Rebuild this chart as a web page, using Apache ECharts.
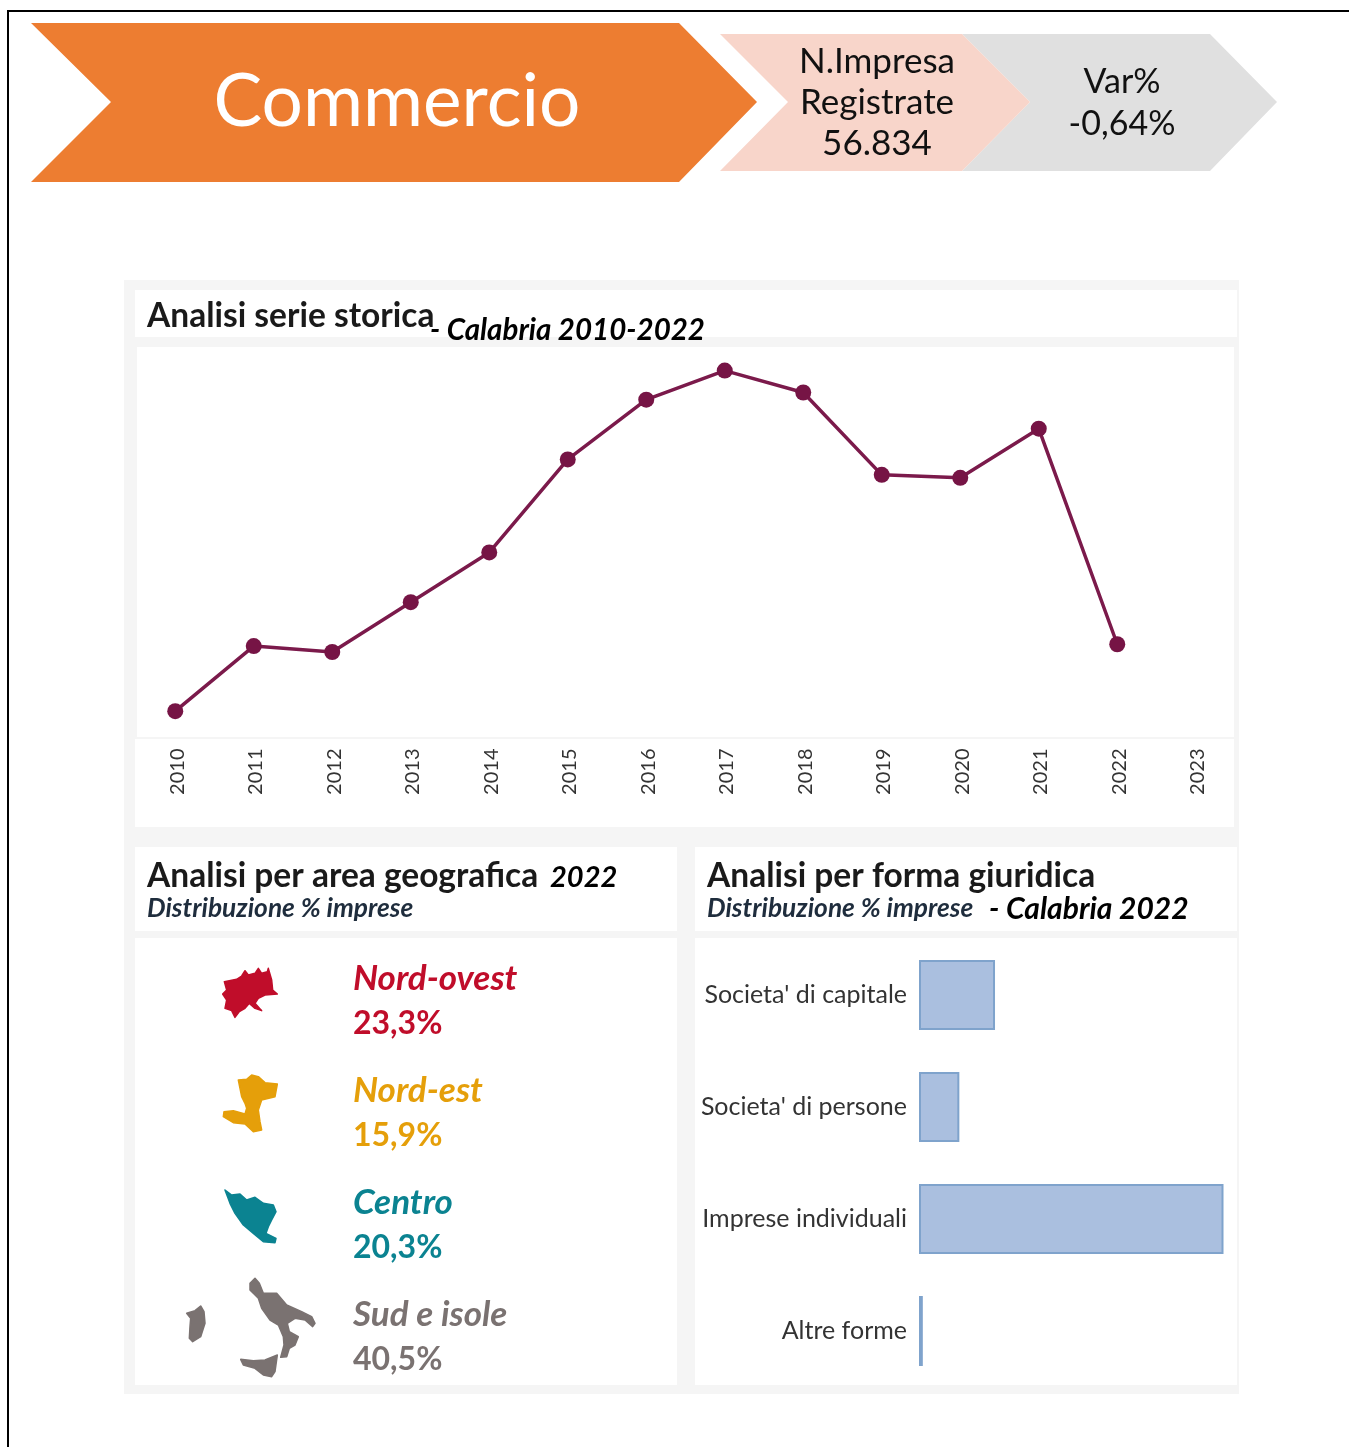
<!DOCTYPE html>
<html>
<head>
<meta charset="utf-8">
<title>Commercio</title>
<script src="https://cdn.jsdelivr.net/npm/echarts@6/dist/echarts.min.js"></script>
<style>
  html, body { margin: 0; padding: 0; background: #fff; }
  #chart { width: 1349px; height: 1447px; }
</style>
</head>
<body>
<div id="chart"></div>
<script>
// serie storica (imprese registrate, scala)
const years = ['2010','2011','2012','2013','2014','2015','2016','2017','2018','2019','2020','2021','2022','2023'];
const registered = [56721,56831,56821,56905,56989,57146,57247,57296,57259,57120,57115,57198,56834,null];

// forma giuridica, % imprese
const legalForms = ["Societa' di capitale","Societa' di persone",'Imprese individuali','Altre forme'];
const legalShares = [17.9,9.5,71.7,0.9];

// area geografica, % imprese
const areas = ['Nord-ovest','Nord-est','Centro','Sud e isole'];
const areaShares = ['23,3%','15,9%','20,3%','40,5%'];
const areaColors = ['#c00d2a','#e59f0a','#0b8391','#7a7271'];

const FONT = 'Lato, "Open Sans", sans-serif';

// sagome delle aree, coordinate sul ritaglio 3x (vedi toIcon)
const iconNordOvest = [[283,125],[320,118],[335,108],[345,92],[355,105],[375,100],[385,85],[395,100],[412,95],[415,85],[425,120],[428,150],[442,162],[405,165],[385,175],[375,190],[395,212],[375,205],[358,190],[345,205],[328,215],[315,232],[305,212],[285,205],[290,180],[278,162],[290,150]];
const iconNordEst = [[325,420],[350,418],[365,405],[385,410],[405,428],[442,432],[435,470],[395,480],[385,510],[390,545],[395,570],[370,575],[345,552],[310,548],[280,530],[282,515],[310,512],[345,522],[350,505],[345,490],[335,470],[330,445]];
const iconCentro = [[285,750],[305,765],[330,762],[350,780],[375,772],[400,790],[430,795],[438,815],[425,840],[415,860],[408,880],[438,895],[435,908],[400,905],[370,880],[340,855],[315,820],[300,790]];
const iconSud = [[360,1030],[375,1015],[388,1030],[400,1060],[440,1060],[470,1095],[515,1115],[545,1130],[555,1150],[548,1160],[525,1140],[495,1135],[472,1150],[478,1175],[505,1190],[495,1215],[478,1225],[470,1250],[452,1252],[462,1215],[460,1190],[445,1155],[420,1140],[395,1105],[385,1075],[360,1050]];
const iconSicilia = [[332,1258],[370,1262],[405,1260],[442,1245],[435,1295],[425,1310],[400,1305],[375,1285],[340,1275]];
const iconSardegna = [[170,1120],[195,1112],[212,1098],[222,1115],[225,1150],[212,1190],[188,1205],[178,1195],[180,1160],[182,1135]];

function toIcon(points, fill) {
  return {
    type: 'polygon',
    shape: { points: points.map(p => [130 + p[0] / 3, 940 + p[1] / 3]) },
    style: { fill: fill, stroke: fill, lineWidth: 1.5, lineJoin: 'round' }
  };
}
function poly(points, fill) {
  return { type: 'polygon', shape: { points: points }, style: { fill: fill } };
}
function box(x, y, w, h, fill) {
  return { type: 'rect', shape: { x: x, y: y, width: w, height: h }, style: { fill: fill } };
}
function label(text, x, y, font, fill, align) {
  return {
    type: 'text',
    style: { text: text, x: x, y: y, font: font, fill: fill, align: align || 'left', verticalAlign: 'middle' }
  };
}

const graphics = [
  // cornice
  box(7, 10, 1342, 2, '#000'),
  box(7, 10, 2, 1437, '#000'),
  // frecce
  poly([[962,34],[1210,34],[1277,102],[1210,171],[962,171],[1030,102]], '#e0e0e0'),
  poly([[720,34],[962,34],[1030,102],[962,171],[720,171],[788,102]], '#f8d5ca'),
  poly([[31,23],[679,23],[757,102],[679,182],[31,182],[111,102]], '#ed7d31'),
  label('Commercio', 397, 102, '400 73px ' + FONT, '#fff', 'center'),
  label('N.Impresa', 877, 62, '35px ' + FONT, '#111', 'center'),
  label('Registrate', 877, 103, '35px ' + FONT, '#111', 'center'),
  label('56.834', 877, 144, '35px ' + FONT, '#111', 'center'),
  label('Var%', 1122, 82, '34px ' + FONT, '#111', 'center'),
  label('-0,64%', 1122, 124, '34px ' + FONT, '#111', 'center'),
  // pannelli
  box(124, 280, 1115, 1114, '#f5f5f5'),
  box(135, 290, 1102, 47, '#fff'),
  box(137, 347, 1097, 390, '#fff'),
  box(135, 739, 1099, 88, '#fff'),
  box(135, 847, 542, 84, '#fff'),
  box(695, 847, 542, 84, '#fff'),
  box(135, 938, 542, 447, '#fff'),
  box(695, 938, 542, 447, '#fff'),
  // titoli
  label('Analisi serie storica', 147, 316, 'bold 33.5px ' + FONT, '#1a1a1a'),
  label('- Calabria 2010-2022', 430, 330, 'italic bold 29.5px ' + FONT, '#000'),
  label('Analisi per area geografica', 147, 876, 'bold 33.5px ' + FONT, '#1a1a1a'),
  label('2022', 550, 878, 'italic bold 29px ' + FONT, '#000'),
  label('Distribuzione % imprese', 147, 909, 'italic bold 26.3px ' + FONT, '#1f2d3d'),
  label('Analisi per forma giuridica', 707, 876, 'bold 33.5px ' + FONT, '#1a1a1a'),
  label('Distribuzione % imprese', 707, 909, 'italic bold 26.3px ' + FONT, '#1f2d3d'),
  label('- Calabria 2022', 989, 909, 'italic bold 30px ' + FONT, '#000'),
  // sagome
  toIcon(iconNordOvest, areaColors[0]),
  toIcon(iconNordEst, areaColors[1]),
  toIcon(iconCentro, areaColors[2]),
  toIcon(iconSud, areaColors[3]),
  toIcon(iconSicilia, areaColors[3]),
  toIcon(iconSardegna, areaColors[3])
];

areas.forEach((name, i) => {
  graphics.push(label(name, 353, 979 + i * 112, 'italic bold 35px ' + FONT, areaColors[i]));
  graphics.push(label(areaShares[i], 353, 1024 + i * 112, 'bold 32px ' + FONT, areaColors[i]));
});

const chart = echarts.init(document.getElementById('chart'));
chart.setOption({
  animation: false,
  graphic: { elements: graphics },
  grid: [
    { left: 136, top: 347.5, width: 1099, height: 388 },
    { left: 919, top: 939, width: 304.5, height: 448 }
  ],
  xAxis: [
    {
      type: 'category',
      gridIndex: 0,
      data: years,
      axisLine: { show: false },
      axisTick: { show: false },
      splitLine: { show: false },
      axisLabel: {
        interval: 0,
        rotate: 90,
        margin: 13,
        formatter: v => '{y|' + v + '}',
        rich: { y: { padding: [4, 0, 0, 0], fontFamily: FONT, fontSize: 20, color: '#333' } }
      }
    },
    { type: 'value', gridIndex: 1, min: 0, max: 71.7, show: false }
  ],
  yAxis: [
    { type: 'value', gridIndex: 0, min: 56680, max: 57335, show: false },
    {
      type: 'category',
      gridIndex: 1,
      inverse: true,
      data: legalForms,
      axisLine: { show: false },
      axisTick: { show: false },
      axisLabel: { margin: 12, fontFamily: FONT, fontSize: 25, color: '#333' }
    }
  ],
  series: [
    {
      type: 'line',
      xAxisIndex: 0,
      yAxisIndex: 0,
      data: registered,
      symbol: 'circle',
      symbolSize: 16,
      lineStyle: { color: '#7b1a4b', width: 3.5 },
      itemStyle: { color: '#761445' }
    },
    {
      type: 'bar',
      xAxisIndex: 1,
      yAxisIndex: 1,
      data: legalShares,
      barWidth: 70,
      itemStyle: { color: '#aabfdf', borderColor: '#7fa3cc', borderWidth: 2 }
    }
  ]
});
</script>
</body>
</html>
